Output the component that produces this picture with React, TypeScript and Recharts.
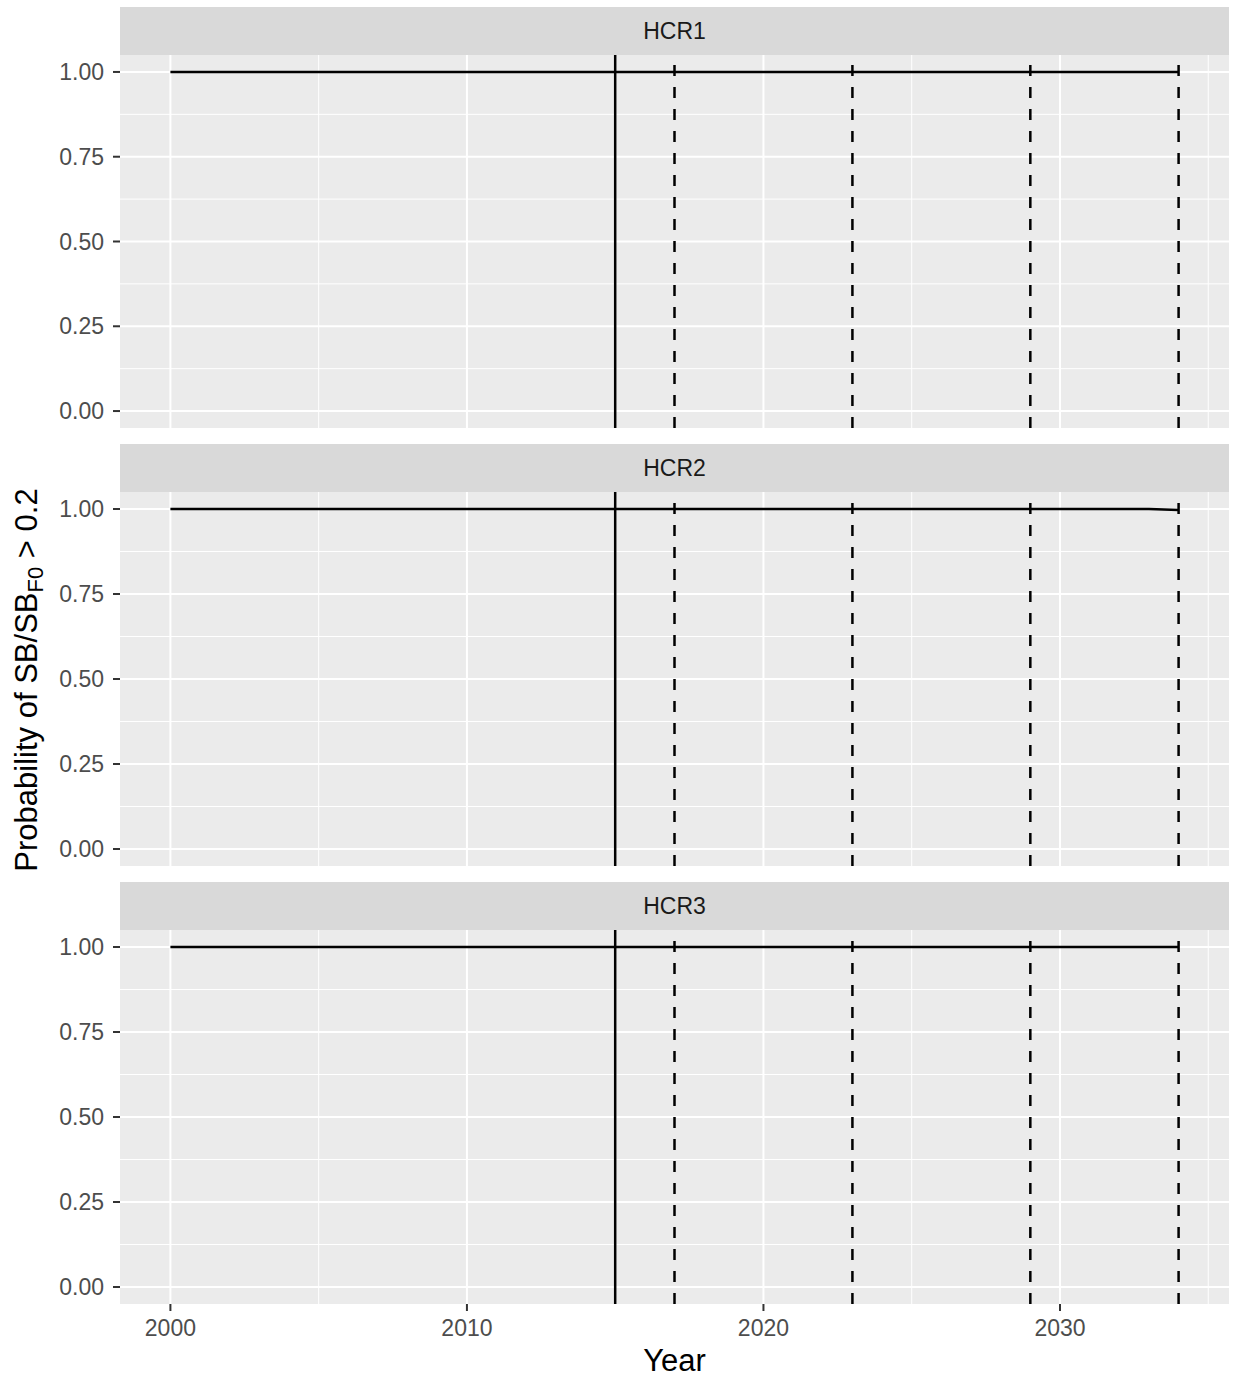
import React from "react";
import { LineChart, Line, XAxis, YAxis, CartesianGrid, ReferenceLine } from "recharts";

const years = [
  2000, 2001, 2002, 2003, 2004, 2005, 2006, 2007, 2008, 2009, 2010, 2011, 2012, 2013, 2014, 2015, 2016, 2017,
  2018, 2019, 2020, 2021, 2022, 2023, 2024, 2025, 2026, 2027, 2028, 2029, 2030, 2031, 2032, 2033, 2034,
];
const hcr1 = [
  1, 1, 1, 1, 1, 1, 1, 1, 1, 1, 1, 1, 1, 1, 1, 1, 1, 1, 1, 1, 1, 1, 1, 1, 1, 1, 1, 1, 1, 1, 1, 1, 1, 1, 1,
];
const hcr2 = [
  1, 1, 1, 1, 1, 1, 1, 1, 1, 1, 1, 1, 1, 1, 1, 1, 1, 1, 1, 1, 1, 1, 1, 1, 1, 1, 1, 1, 1, 1, 1, 1, 1, 1, 0.997,
];
const hcr3 = [
  1, 1, 1, 1, 1, 1, 1, 1, 1, 1, 1, 1, 1, 1, 1, 1, 1, 1, 1, 1, 1, 1, 1, 1, 1, 1, 1, 1, 1, 1, 1, 1, 1, 1, 1,
];
const panelLabels = ["HCR1", "HCR2", "HCR3"];
const solidYears = [2015];
const dashedYears = [2017, 2023, 2029, 2034];
const xTicks = [2000, 2010, 2020, 2030];
const xMinor = [2005, 2015, 2025, 2035];
const yTicks = [0, 0.25, 0.5, 0.75, 1];
const yMinor = [0.125, 0.375, 0.625, 0.875];

const FONT = "'Liberation Sans', Arial, Helvetica, sans-serif";
const W = 1233;
const PLOT_LEFT = 120;
const PLOT_RIGHT = 4;
const STRIP_H = 48;
const xDomain = [1998.3, 2035.7];
const yDomain = [-0.05, 1.05];

const tickStyle = { fill: "#4D4D4D", fontSize: 23, fontFamily: FONT };
const tickLineStyle = { stroke: "#333333", strokeWidth: 2 };

function Panel({ label, values, top, height, showX }: { label: string; values: number[]; top: number; height: number; showX: boolean }) {
  const data = years.map((y, i) => ({ year: y, p: values[i] }));
  const xAxisH = showX ? 40 : 0;
  return (
    <>
      <div
        style={{
          position: "absolute",
          left: PLOT_LEFT,
          top: top,
          width: W - PLOT_LEFT - PLOT_RIGHT,
          height: STRIP_H,
          background: "#D9D9D9",
          color: "#1A1A1A",
          fontSize: 23,
          fontFamily: FONT,
          display: "flex",
          alignItems: "center",
          justifyContent: "center",
        }}
      >
        {label}
      </div>
      <div style={{ position: "absolute", left: 0, top: top + STRIP_H }}>
        <LineChart width={W} height={height + xAxisH} data={data} margin={{ top: 0, right: PLOT_RIGHT, bottom: 0, left: 0 }}>
          <CartesianGrid fill="#EBEBEB" stroke="#FFFFFF" strokeWidth={1} verticalValues={xMinor} horizontalValues={yMinor} />
          <CartesianGrid stroke="#FFFFFF" strokeWidth={2} verticalValues={xTicks} horizontalValues={yTicks} />
          <XAxis
            dataKey="year"
            type="number"
            domain={xDomain}
            ticks={xTicks}
            allowDataOverflow
            hide={!showX}
            height={xAxisH}
            axisLine={false}
            tickLine={tickLineStyle}
            tickSize={7}
            tickMargin={9}
            tick={tickStyle}
          />
          <YAxis
            type="number"
            domain={yDomain}
            ticks={yTicks}
            allowDataOverflow
            width={PLOT_LEFT}
            axisLine={false}
            tickLine={tickLineStyle}
            tickSize={7}
            tickMargin={9}
            tick={tickStyle}
            tickFormatter={(v: number) => v.toFixed(2)}
          />
          <Line type="linear" dataKey="p" stroke="#000000" strokeWidth={2.5} dot={false} isAnimationActive={false} />
          {solidYears.map((y) => (
            <ReferenceLine key={"s" + y} x={y} stroke="#000000" strokeWidth={2.5} />
          ))}
          {dashedYears.map((y) => (
            <ReferenceLine key={"d" + y} x={y} stroke="#000000" strokeWidth={2.5} strokeDasharray="11 11" />
          ))}
        </LineChart>
      </div>
    </>
  );
}

export default function App() {
  const series = [hcr1, hcr2, hcr3];
  const tops = [7, 444, 882];
  const heights = [373, 374, 374];
  return (
    <div style={{ position: "absolute", left: 0, top: 0, width: W, height: 1379, background: "#FFFFFF", fontFamily: FONT }}>
      {panelLabels.map((lab, i) => (
        <Panel key={lab} label={lab} values={series[i]} top={tops[i]} height={heights[i]} showX={i === 2} />
      ))}
      <svg style={{ position: "absolute", left: 0, top: 0 }} width={70} height={1379}>
        <text transform="translate(37, 680) rotate(-90)" textAnchor="middle" fontSize={31} fill="#000000" fontFamily={FONT}>
          Probability of SB/SB
          <tspan dy={6} fontSize={22}>F0</tspan>
          <tspan dy={-6}> {">"} 0.2</tspan>
        </text>
      </svg>
      <div
        style={{
          position: "absolute",
          left: PLOT_LEFT,
          top: 1342,
          width: W - PLOT_LEFT - PLOT_RIGHT,
          textAlign: "center",
          fontSize: 31,
          color: "#000000",
          fontFamily: FONT,
          lineHeight: "38px",
        }}
      >
        Year
      </div>
    </div>
  );
}
